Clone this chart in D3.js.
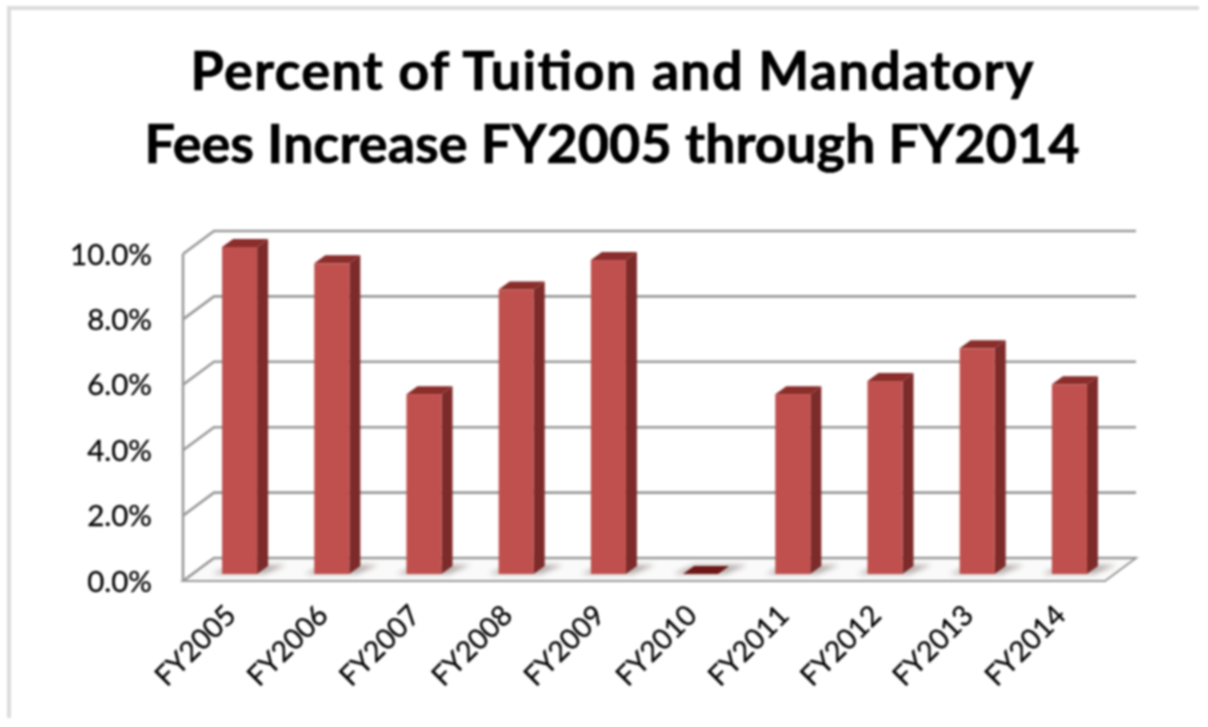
<!DOCTYPE html>
<html><head><meta charset="utf-8">
<script src="https://cdn.jsdelivr.net/npm/d3@7"></script>
<style>html,body{margin:0;padding:0;background:#fff}svg{display:block}text{font-family:Lato,"Open Sans",sans-serif;fill:#000}</style>
</head><body><svg id="c" width="1208" height="727"></svg>
<script>
const categories=["FY2005","FY2006","FY2007","FY2008","FY2009","FY2010","FY2011","FY2012","FY2013","FY2014"];
const values=[10.0,9.5,5.5,8.7,9.6,0.0,5.5,5.9,6.9,5.8];
const tickValues=[0,2,4,6,8,10];
const titleLines=["Percent of Tuition and Mandatory","Fees Increase FY2005 through FY2014"];
const W=1208,H=727;
const svg=d3.select("#c").attr("viewBox",[0,0,W,H]);
const root=svg.append("g").style("filter","blur(0.9px)");
root.append("path").attr("d","M9,718V8H1199").attr("fill","none").attr("stroke","#dcdcdc").attr("stroke-width",4);
const dx=31,dy=-23,bdx=11,bdy=-8;
const xL=183,xR=1105,y0=581,y10=254;
const x=d3.scaleBand().domain(categories).range([xL+10.5,xR+10.5]).paddingInner(0.62).paddingOuter(0.31);
const yFront=d3.scaleLinear().domain([0,10]).range([y0,y10]);
const yBar=d3.scaleLinear().domain([0,10]).range([574,247]);
const gridC="#9a9a9a";
root.append("polygon").attr("points",[[xL,y0],[xR,y0],[xR+dx,y0+dy],[xL+dx,y0+dy]].join(" ")).attr("fill","#fafafa").attr("stroke",gridC).attr("stroke-width",2);
root.selectAll(".grid").data(tickValues).join("polyline").attr("fill","none").attr("stroke",gridC).attr("stroke-width",2.6)
 .attr("points",d=>[[xL,yFront(d)],[xL+dx,yFront(d)+dy],[xR+dx,yFront(d)+dy]].join(" "));
root.append("line").attr("x1",xL).attr("x2",xL).attr("y1",yFront(10)).attr("y2",y0).attr("stroke",gridC).attr("stroke-width",2.6);
const bars=root.selectAll(".bar").data(categories.map((c,i)=>({c,v:values[i]}))).join("g");
bars.append("polygon").attr("fill","#a89f9c").attr("opacity",.85).style("filter","blur(2.5px)").attr("points",d=>{const l=x(d.c);return [[l-10,574],[l+42,574],[l+64,565],[l+12,565]].join(" ")});
bars.append("polygon").attr("fill",d=>d.v<=0.01?"#6d1716":"#8a2d2b").attr("points",d=>{const l=x(d.c),r=l+x.bandwidth(),t=yBar(d.v);return [[l,t],[r,t],[r+bdx,t+bdy],[l+bdx,t+bdy]].join(" ")});
bars.append("polygon").attr("fill","#7d2b2a").attr("points",d=>{const r=x(d.c)+x.bandwidth(),t=yBar(d.v);return [[r,t],[r+bdx,t+bdy],[r+bdx,574+bdy],[r,574]].join(" ")});
bars.append("rect").attr("fill","#c0504d").attr("x",d=>x(d.c)).attr("width",x.bandwidth()).attr("y",d=>yBar(d.v)).attr("height",d=>574-yBar(d.v));
root.selectAll(".ylab").data(tickValues).join("text").attr("x",152).attr("y",yFront).attr("dy","0.36em").attr("text-anchor","end").attr("font-size",29.5).attr("stroke","#000").attr("stroke-width",0.3).text(d=>d.toFixed(1)+"%");
root.selectAll(".xlab").data(categories).join("text").attr("text-anchor","end").attr("font-size",28.5).attr("stroke","#000").attr("stroke-width",0.3)
 .attr("transform",d=>`translate(${x(d)+x.bandwidth()/2-2},617) rotate(-45)`).text(d=>d);
const titleWidths=[843,935];
root.selectAll(".title").data(titleLines).join("text").attr("x",612).attr("y",(d,i)=>90+i*73).attr("text-anchor","middle").attr("font-size",54).attr("font-weight",700).attr("stroke","#000").attr("stroke-width",0.7)
 .attr("textLength",(d,i)=>titleWidths[i]).attr("lengthAdjust","spacing").text(d=>d);
</script></body></html>
